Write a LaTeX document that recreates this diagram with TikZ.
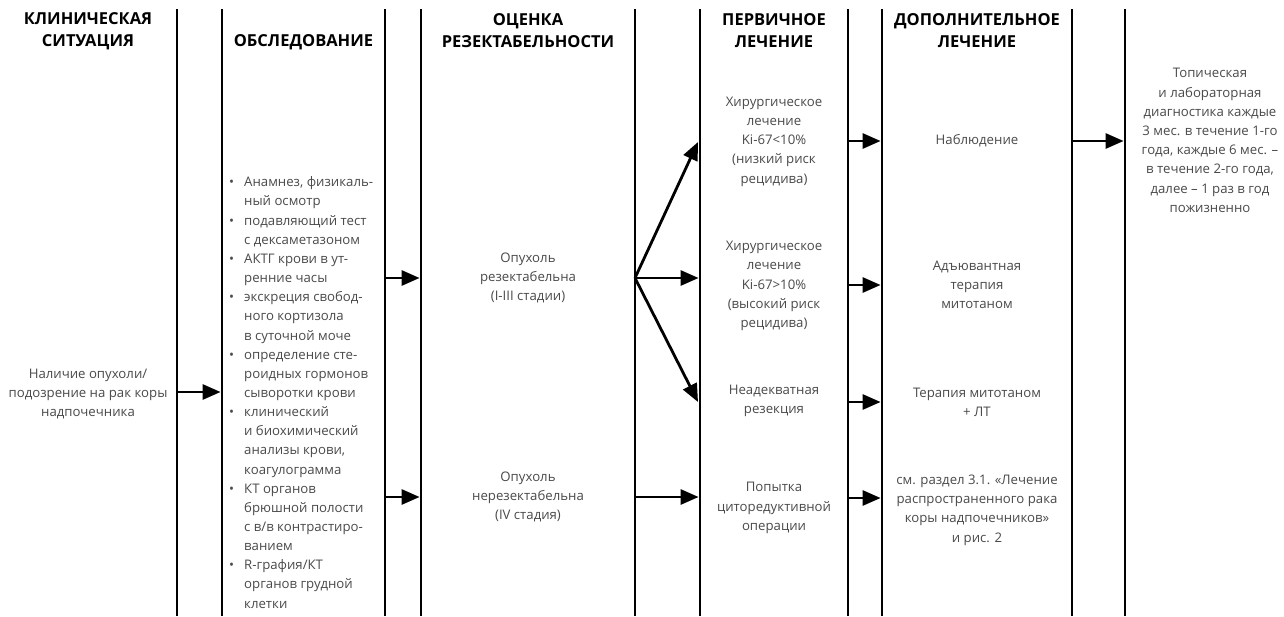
\documentclass[tikz,border=0pt]{standalone}
\usepackage{fontspec}
\setmainfont{Open Sans}
\usetikzlibrary{arrows.meta}
\definecolor{txt}{HTML}{4A4A4A}
\tikzset{
  body/.style={align=center, text=txt, font={\fontsize{13.2}{19.2}\selectfont}, inner sep=0pt},
  listbox/.style={align=left, text=txt, font={\fontsize{13.2}{19.15}\selectfont}, inner sep=0pt},
  head/.style={align=center, font={\bfseries\fontsize{16.5}{22}\selectfont}, inner sep=0pt},
  vline/.style={line width=2.8pt},
  arr/.style={line width=2.8pt, -{Triangle[length=18pt,width=15pt]}},
}
\newcommand{\bul}{\makebox[15pt][l]{•}}
\newcommand{\ind}{\hspace*{15pt}}
\begin{document}
\begin{tikzpicture}[x=1pt,y=-1pt]
\useasboundingbox (0,0) rectangle (1284,616);
\fill[white] (0,0) rectangle (1284,616);
% vertical lines
\foreach \x in {177,222,385,421,635,700,848,882,1072,1125}
  \draw[vline] (\x,9) -- (\x,616);
% headers
\node[head] (h1) at (88,31) {КЛИНИЧЕСКАЯ\\СИТУАЦИЯ};
\node[head] (h2) at (303.5,42) {ОБСЛЕДОВАНИЕ};
\node[head] (h3) at (528,31) {ОЦЕНКА\\РЕЗЕКТАБЕЛЬНОСТИ};
\node[head] (h4) at (774,31) {ПЕРВИЧНОЕ\\ЛЕЧЕНИЕ};
\node[head] (h5) at (977,31) {ДОПОЛНИТЕЛЬНОЕ\\ЛЕЧЕНИЕ};
% column 1
\node[body] (sit) at (88,394) {Наличие опухоли/\\подозрение на рак коры\\надпочечника};
% column 2
\node[listbox, anchor=west] (exam) at (229,392.5) {\bul Анамнез, физикаль-\\
\ind ный осмотр\\
\bul подавляющий тест\\
\ind с дексаметазоном\\
\bul АКТГ крови в ут-\\
\ind ренние часы\\
\bul экскреция свобод-\\
\ind ного кортизола\\
\ind в суточной моче\\
\bul определение сте-\\
\ind роидных гормонов\\
\ind сыворотки крови\\
\bul клинический\\
\ind и биохимический\\
\ind анализы крови,\\
\ind коагулограмма\\
\bul КТ органов\\
\ind брюшной полости\\
\ind с в/в контрастиро-\\
\ind ванием\\
\bul R-графия/КТ\\
\ind органов грудной\\
\ind клетки};
% column 3
\node[body] (res) at (528,278) {Опухоль\\резектабельна\\(I-III стадии)};
\node[body] (nres) at (528,497) {Опухоль\\нерезектабельна\\(IV стадия)};
% column 4
\node[body] (s1) at (774,141.5) {Хирургическое\\лечение\\Ki-67<10\%\\(низкий риск\\рецидива)};
\node[body] (s2) at (774,286) {Хирургическое\\лечение\\Ki-67>10\%\\(высокий риск\\рецидива)};
\node[body] (s3) at (774,401) {Неадекватная\\резекция};
\node[body] (s4) at (774,508) {Попытка\\циторедуктивной\\операции};
% column 5
\node[body] (t1) at (977,141) {Наблюдение};
\node[body] (t2) at (977,285) {Адъювантная\\терапия\\митотаном};
\node[body] (t3) at (977,402) {Терапия митотаном\\+ ЛТ};
\node[body] (t4) at (977,510) {см. раздел 3.1. «Лечение\\распространенного рака\\коры надпочечников»\\и рис. 2};
% column 6
\node[body] (f1) at (1210,140.5) {Топическая\\и лабораторная\\диагностика каждые\\3 мес. в течение 1-го\\года, каждые 6 мес. –\\в течение 2-го года,\\далее – 1 раз в год\\пожизненно};
% arrow endpoints
\coordinate (a1s) at (177,392); \coordinate (a1e) at (220.6,392);
\coordinate (a2s) at (385,278); \coordinate (a2e) at (419.6,278);
\coordinate (a3s) at (385,497); \coordinate (a3e) at (419.6,497);
\coordinate (b0) at (635,278);
\coordinate (b1) at (698,142); \coordinate (b2) at (698.6,278); \coordinate (b3) at (698,402);
\coordinate (b4s) at (635,497); \coordinate (b4e) at (698.6,497);
\coordinate (c1s) at (848,141); \coordinate (c1e) at (880.6,141);
\coordinate (c2s) at (848,285); \coordinate (c2e) at (880.6,285);
\coordinate (c3s) at (848,402); \coordinate (c3e) at (880.6,402);
\coordinate (c4s) at (848,498); \coordinate (c4e) at (880.6,498);
\coordinate (d1s) at (1072,141); \coordinate (d1e) at (1123.6,141);
% arrows
\draw[arr] (a1s) -- (a1e);
\draw[arr] (a2s) -- (a2e);
\draw[arr] (a3s) -- (a3e);
\draw[arr] (b0) -- (b1);
\draw[arr] (b0) -- (b2);
\draw[arr] (b0) -- (b3);
\draw[arr] (b4s) -- (b4e);
\draw[arr] (c1s) -- (c1e);
\draw[arr] (c2s) -- (c2e);
\draw[arr] (c3s) -- (c3e);
\draw[arr] (c4s) -- (c4e);
\draw[arr] (d1s) -- (d1e);
\end{tikzpicture}
\end{document}
